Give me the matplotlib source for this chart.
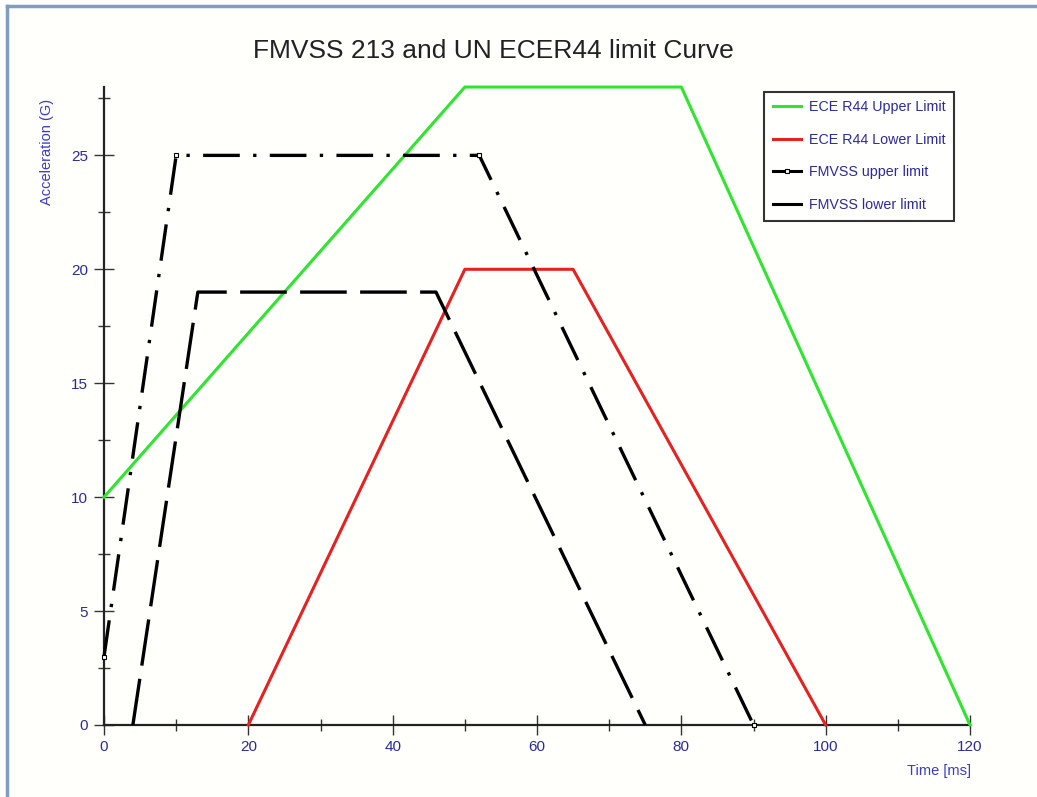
import matplotlib
matplotlib.use("Agg")
import matplotlib.pyplot as plt
from matplotlib.lines import Line2D
from matplotlib.ticker import MultipleLocator

plt.rcParams["font.family"] = ["Liberation Sans", "DejaVu Sans"]

# ---- data (time ms, acceleration G) ----
ece_upper_t = [0, 50, 80, 120]
ece_upper_g = [10, 28, 28, 0]
ece_lower_t = [20, 50, 65, 100]
ece_lower_g = [0, 20, 20, 0]
fmvss_upper_t = [0, 10, 52, 90]
fmvss_upper_g = [3, 25, 25, 0]
fmvss_lower_t = [4, 13, 46, 75]
fmvss_lower_g = [0, 19, 19, 0]

labels = ["ECE R44 Upper Limit", "ECE R44 Lower Limit",
          "FMVSS upper limit", "FMVSS lower limit"]

GREEN = "#2ee62e"
RED = "#e82020"
BLUE = "#2a2aa0"

fig = plt.figure(figsize=(10.37, 7.97), dpi=100, facecolor="#fffffc")
# blue-grey frame on left and top edges
fig.add_artist(Line2D([0.0065, 0.0065], [0, 0.992], transform=fig.transFigure,
                      color="#7f9cc4", lw=2.5))
fig.add_artist(Line2D([0.0065, 1.0], [0.992, 0.992], transform=fig.transFigure,
                      color="#7f9cc4", lw=2.5))

ax = fig.add_axes([0.1003, 0.0904, 0.8351, 0.8004])
ax.set_facecolor("none")

ax.plot(ece_upper_t, ece_upper_g, color=GREEN, lw=2.2, zorder=3, clip_on=False)
ax.plot(ece_lower_t, ece_lower_g, color=RED, lw=2.2, zorder=3, clip_on=False)
ax.plot(fmvss_upper_t, fmvss_upper_g, color="black", lw=2.4,
        dashes=(11, 4, 1, 4), marker="s", ms=3.5, mfc="white", mec="black",
        mew=0.8, zorder=4, clip_on=False)
ax.plot(fmvss_lower_t, fmvss_lower_g, color="black", lw=2.4,
        dashes=(14, 4), zorder=4, clip_on=False)

ax.set_xlim(0, 120)
ax.set_ylim(0, 28)
for s in ("top", "right"):
    ax.spines[s].set_visible(False)
for s in ("left", "bottom"):
    ax.spines[s].set_linewidth(1.6)
    ax.spines[s].set_color("#222222")

ax.xaxis.set_major_locator(MultipleLocator(20))
ax.xaxis.set_minor_locator(MultipleLocator(10))
ax.yaxis.set_major_locator(MultipleLocator(5))
ax.yaxis.set_minor_locator(MultipleLocator(2.5))
ax.tick_params(which="both", direction="inout", colors="#333333",
               labelcolor=BLUE, labelsize=11)
ax.tick_params(which="major", length=15, width=1.0)
ax.tick_params(which="minor", length=9, width=1.0)
ax.tick_params(axis="y", which="both", pad=4)
ax.tick_params(axis="x", which="both", pad=3)

fig.text(0.045, 0.809, "Acceleration (G)", rotation=90, color="#3a3ad0",
         fontsize=10.5, ha="center", va="center")
fig.text(0.936, 0.033, "Time [ms]", color="#3a3ad0", fontsize=10.5,
         ha="right", va="center")
fig.text(0.476, 0.936, "FMVSS 213 and UN ECER44 limit Curve",
         fontsize=19, color="#222222", ha="center", va="center")

handles = [
    Line2D([], [], color=GREEN, lw=2.2),
    Line2D([], [], color=RED, lw=2.2),
    Line2D([], [], color="black", lw=2.2, marker="s", ms=3.5,
           mfc="white", mec="black", mew=0.8),
    Line2D([], [], color="black", lw=2.2),
]
leg = fig.legend(handles, labels, loc="upper left",
                 bbox_to_anchor=(0.737, 0.885), fontsize=10.3,
                 labelcolor=BLUE, frameon=True, fancybox=False,
                 edgecolor="black", handlelength=2.0, handletextpad=0.5,
                 labelspacing=1.3, borderpad=0.6, borderaxespad=0)
leg.get_frame().set_linewidth(1.5)

fig.savefig("out.png", dpi=100, facecolor=fig.get_facecolor())
